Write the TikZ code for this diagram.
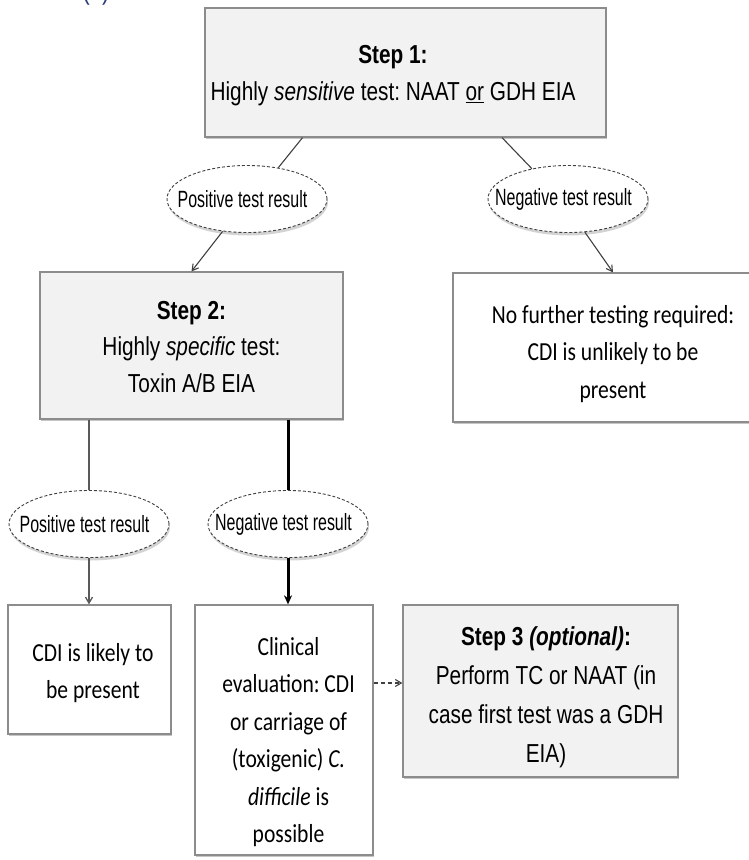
\documentclass[tikz,border=0pt]{standalone}
\usepackage{fontspec}
\setmainfont{Liberation Sans}[FakeStretch=0.8]
\newfontfamily\calib{Carlito}[FakeStretch=0.83]
\newfontfamily\elfont{Liberation Sans}[FakeStretch=0.68]
\usetikzlibrary{shapes.geometric,arrows.meta,shadows,calc}
\definecolor{boxfill}{HTML}{F2F2F2}
\definecolor{boxline}{HTML}{8C8C8C}
\definecolor{lineg}{HTML}{404040}
\definecolor{navy}{HTML}{283C78}
\newcommand{\eltext}[1]{\makebox[0pt]{#1\kern9pt}}
\begin{document}
\frenchspacing
\begin{tikzpicture}[x=1pt,y=-1pt,
  boxbase/.style={draw=boxline, line width=1.3pt, inner sep=0pt,
    drop shadow={shadow xshift=0.8pt, shadow yshift=-1.5pt, opacity=0.45}},
  greybox/.style={boxbase, fill=boxfill},
  whitebox/.style={boxbase, fill=white},
  txt/.style={align=center, font=\fontsize{26}{36.5}\selectfont, inner sep=0pt},
  ctxt/.style={align=center, font=\calib\fontsize{26}{37.5}\selectfont, inner sep=0pt},
  resultel/.style={ellipse, draw=lineg, dash pattern=on 3pt off 2pt, line width=0.9pt,
    fill=white, minimum width=160pt, minimum height=67pt, inner sep=0pt,
    font=\elfont\fontsize{23.5}{26}\selectfont,
    drop shadow={shadow xshift=1pt, shadow yshift=-3pt, opacity=0.35}},
  conn/.style={draw=lineg, line width=1.1pt},
  tip/.style={-{Straight Barb[length=6pt,width=7pt]}},
  thinline/.style={draw=gray!70!black, line width=1.3pt},
  thickline/.style={draw=black, line width=3pt},
]
\useasboundingbox (0,0) rectangle (748,860);

\node[font=\fontsize{28}{30}\selectfont, text=navy, anchor=base, inner sep=0pt] (lbl) at (96,-1) {(b)};

% Step 1
\node[greybox, minimum width=401pt, minimum height=129pt] (s1) at (405.5,72.5) {};
\node[txt] (s1t) at (393,75.5) {\textbf{Step 1:}\\Highly \textit{sensitive} test: NAAT \underline{or} GDH EIA};

% first results
\node[resultel] (p1) at (247,199) {\eltext{Positive test result}};
\node[resultel] (n1) at (568,199) {\eltext{Negative test result}};

% Step 2
\node[greybox, minimum width=303pt, minimum height=147pt] (s2) at (191.5,345.5) {};
\node[txt] (s2t) at (191.5,347) {\textbf{Step 2:}\\Highly \textit{specific} test:\\Toxin A/B EIA};

% no further testing
\node[whitebox, minimum width=320pt, minimum height=149pt] (nb) at (613,347.5) {};
\node[ctxt] (nbt) at (613,354) {No further testing required:\\CDI is unlikely to be\\present};

% second results
\node[resultel] (p2) at (89,524) {\eltext{Positive test result}};
\node[resultel] (n2) at (288,524) {\eltext{Negative test result}};

% outcome boxes
\node[whitebox, minimum width=163pt, minimum height=129pt] (cdi) at (89.5,669.5) {};
\node[ctxt] (cdit) at (93,673) {CDI is likely to\\be present};

\node[whitebox, minimum width=178pt, minimum height=250pt] (clin) at (284,730) {};
\node[ctxt] (clint) at (288.5,742) {Clinical\\evaluation: CDI\\or carriage of\\(toxigenic) \textit{C.}\\\textit{difficile} is\\possible};

\node[greybox, minimum width=275pt, minimum height=172pt] (s3) at (540.5,691) {};
\node[txt, font=\fontsize{26}{39}\selectfont] (s3t) at (546,697) {\textbf{Step 3 \textit{(optional)}:}\\Perform TC or NAAT (in\\case first test was a GDH\\EIA)};

% connectors
\draw[conn] ($(s1.south west)!0.244!(s1.south east)$) -- (p1.45);
\draw[conn] ($(s1.south west)!0.74!(s1.south east)$) -- (n1.140);
\draw[conn, tip] (p1.233) -- (s2.north);
\draw[conn, tip] (n1.297) -- (nb.north);
\draw[thinline] (p2.north |- s2.south) -- (p2.north);
\draw[thickline] (n2.north |- s2.south) -- (n2.north);
\draw[thinline, tip] (p2.south) -- (p2.south |- cdi.north);
\draw[thickline, -{Stealth[length=9pt,width=8pt]}] (n2.south) -- (n2.south |- clin.north);
\draw[conn, dash pattern=on 4pt off 3pt, tip] ([yshift=8pt]s3.west -| clin.east) -- ([yshift=8pt]s3.west);
\end{tikzpicture}
\end{document}
